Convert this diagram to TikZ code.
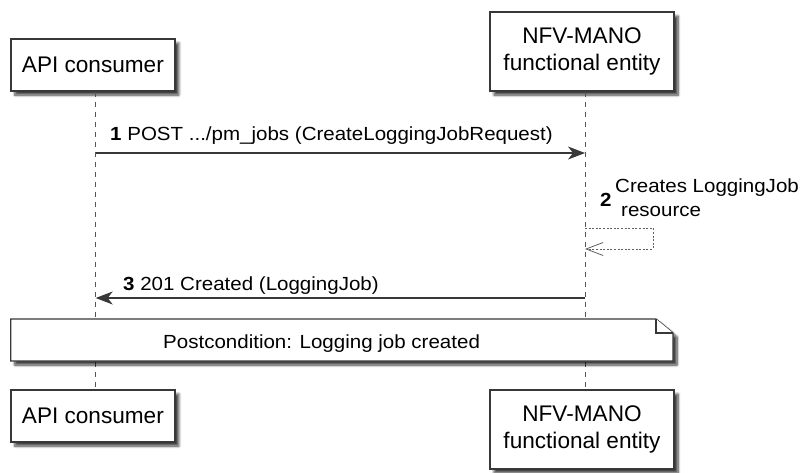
\documentclass[tikz,border=0pt]{standalone}
\usepackage{fontspec}
\setmainfont{Liberation Sans}
\newfontfamily\msgfont[FakeStretch=1.08]{Liberation Sans}
\usetikzlibrary{arrows.meta,shadows.blur}
\definecolor{edge}{HTML}{383838}
\definecolor{life}{HTML}{555555}
\begin{document}
\begin{tikzpicture}[x=1pt,y=-1pt,
  shade/.style={blur shadow={shadow xshift=4pt, shadow yshift=-4pt, shadow blur steps=8, shadow blur radius=2.5pt, shadow opacity=75}},
  part/.style={draw=edge, line width=1.4pt, fill=white, align=center, inner sep=0pt,
    font=\fontsize{22.6}{27}\selectfont, shade},
  lifeline/.style={draw=life, line width=1pt, dash pattern=on 5pt off 5pt},
  msg/.style={draw=edge, line width=1.1pt, -{Stealth[length=17pt,width=13pt,inset=5pt]}},
  selfmsg/.style={draw=edge!80, line width=0.8pt, dash pattern=on 2pt off 1.6pt, -{Straight Barb[length=17pt,width=13pt]}},
  lbl/.style={inner sep=0pt, anchor=base west, font=\msgfont\fontsize{19}{24}\selectfont},
  notestyle/.style={draw=edge, line width=1.3pt, fill=white, shade}]
\useasboundingbox (0,0) rectangle (802,472);

% participants
\node[part, minimum width=164pt, minimum height=52pt] (atop) at (92.9,65) {API consumer};
\node[part, minimum width=184pt, minimum height=79pt] (ntop) at (582,51.5) {NFV-MANO\\functional entity};
\node[part, minimum width=164pt, minimum height=52pt] (abot) at (92.9,416) {API consumer};
\node[part, minimum width=184pt, minimum height=79pt] (nbot) at (582,429.5) {NFV-MANO\\functional entity};

% lifeline x positions
\coordinate (la) at (95.7,0);
\coordinate (ln) at (585,0);
\draw[lifeline] (atop.south -| la) -- (abot.north -| la);
\draw[lifeline] (ntop.south -| ln) -- (nbot.north -| ln);

% message 1
\coordinate (m1) at (0,153);
\draw[msg] (la |- m1) -- (ln |- m1);
\node[lbl] (t1) at (110,140.7) {\textbf{1} POST .../pm\_jobs (CreateLoggingJobRequest)};

% message 2 (self)
\coordinate (s1) at (653,228);
\coordinate (s2) at (653,249);
\draw[selfmsg] (ln |- s1) -- (s1) -- (s2) -- (ln |- s2);
\node[lbl] (t2n) at (600,206.7) {\textbf{2}};
\node[lbl] (t2a) at (615,192.7) {Creates LoggingJob};
\node[lbl] (t2b) at (621,216.7) {resource};

% message 3
\coordinate (m3) at (0,298);
\draw[msg] (ln |- m3) -- (la |- m3);
\node[lbl] (t3) at (123,290) {\textbf{3} 201 Created (LoggingJob)};

% note
\path[notestyle] (10.7,319) -- (656,319) -- (673,333) -- (673,361) -- (10.7,361) -- cycle;
\draw[edge, line width=1.1pt, fill=white, line join=miter] (656,319) -- (656,333) -- (673,333);
\node[lbl] (note) at (163,348) {Postcondition: Logging job created};
\end{tikzpicture}
\end{document}
